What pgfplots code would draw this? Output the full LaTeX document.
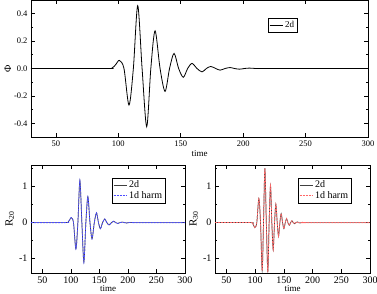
\documentclass[border=0pt]{standalone}
\usepackage{fontspec}
\setmainfont{Liberation Serif}
\usepackage{pgfplots}
\pgfplotsset{compat=1.18}
\pgfplotsset{
  myax/.style={
    scale only axis, anchor=south west,
    axis line style={line width=0.8pt},
    tick align=inside,
    major tick length=4pt, minor tick length=2pt,
    every tick/.style={black, line width=0.6pt},
    /pgf/number format/assume math mode=true,
    xmin=30, xmax=300,
    xtick={50,100,...,300},
    legend cell align=left,
    legend image code/.code={\draw[#1] (0pt,0pt) -- (13pt,0pt);},
  }
}
\begin{document}
\begin{tikzpicture}
\path[use as bounding box] (0,0) rectangle (377pt,294pt);
% top panel
\begin{axis}[myax, at={(31pt,157pt)}, width=337pt, height=137pt,
  ymin=-0.5, ymax=0.5,
  ytick={-0.4,-0.2,0,0.2,0.4},
  minor y tick num=1,
  yticklabel style={/pgf/number format/.cd,fixed,fixed zerofill,precision=1},
  ticklabel style={font=\fontsize{8.5}{9}\selectfont},
  xlabel={time}, ylabel={Φ},
  xlabel style={font=\fontsize{9}{10}\selectfont, yshift=3pt},
  ylabel style={font=\fontsize{10}{11}\selectfont, yshift=-4pt},
  legend style={at={(0.703,0.869)}, anchor=north west, draw=black, line width=0.6pt,
    font=\fontsize{9}{10}\selectfont, inner sep=1pt, row sep=-1pt},
]
\addplot[black, line width=0.8pt, smooth] coordinates {
(30,0)(90,0)(95,0.004)(98,0.03)(100.8,0.059)(104.5,0)(108.5,-0.267)(112,0)(115.5,0.459)(119,0)(122.7,-0.425)(126,0)(129.4,0.275)(133.4,0)(137.4,-0.167)(141,0)(144.6,0.11)(148.3,0)(152,-0.064)(155.5,0)(159,0.037)(163,0)(167,-0.025)(170.5,0)(174,0.015)(178,0)(181.5,-0.012)(185.5,0)(189.5,0.007)(193,0)(197,-0.005)(201,0)(205,0.003)(210,0)(215,0)(300,0)
};
\addlegendentry{2d}
\end{axis}
% bottom left
\begin{axis}[myax, at={(31pt,21pt)}, width=154pt, height=108pt,
  ymin=-1.4, ymax=1.6,
  ytick={-1,0,1},
  minor ytick={-0.5,0.5,1.5},
  ticklabel style={font=\fontsize{10}{11}\selectfont},
  xlabel={time}, ylabel={R\textsubscript{20}},
  xlabel style={font=\fontsize{9}{10}\selectfont, yshift=4.5pt},
  ylabel style={font=\fontsize{11}{12}\selectfont, yshift=-2pt},
  legend style={at={(0.526,0.882)}, anchor=north west, draw=black, line width=0.6pt,
    font=\fontsize{10}{11}\selectfont, inner sep=1pt, row sep=-2pt},
]
\addplot[black!75, line width=0.7pt, smooth] coordinates {
(30,0)(90,0)(95,0.01)(98,0.08)(100.6,0.14)(104.5,0)(108.7,-0.73)(112.2,0)(115.7,1.17)(119.2,0)(122.7,-1.1)(126.2,0)(129.7,0.72)(133.4,0)(137,-0.45)(141,0)(144.8,0.27)(148.3,0)(151.7,-0.17)(155.5,0)(159.3,0.1)(163,0)(167,-0.065)(171,0)(175,0.04)(178.5,0)(182,-0.025)(186,0)(190,0.015)(193.5,0)(197.5,-0.01)(201.5,0)(205.5,0.006)(210,0)(215,0)(300,0)
};
\addlegendentry{2d}
\addplot[blue!70!white, line width=0.8pt, dash pattern=on 2pt off 1pt, smooth] coordinates {
(30,0)(90,0)(95,0.01)(98,0.08)(100.6,0.14)(104.5,0)(108.7,-0.73)(112.2,0)(115.7,1.17)(119.2,0)(122.7,-1.1)(126.2,0)(129.7,0.72)(133.4,0)(137,-0.45)(141,0)(144.8,0.27)(148.3,0)(151.7,-0.17)(155.5,0)(159.3,0.1)(163,0)(167,-0.065)(171,0)(175,0.04)(178.5,0)(182,-0.025)(186,0)(190,0.015)(193.5,0)(197.5,-0.01)(201.5,0)(205.5,0.006)(210,0)(215,0)(300,0)
};
\addlegendentry{1d harm}
\end{axis}
% bottom right
\begin{axis}[myax, at={(215pt,21pt)}, width=155pt, height=108pt,
  ymin=-1.4, ymax=1.6,
  ytick={-1,0,1},
  minor ytick={-0.5,0.5,1.5},
  ticklabel style={font=\fontsize{10}{11}\selectfont},
  xlabel={time}, ylabel={R\textsubscript{30}},
  xlabel style={font=\fontsize{9}{10}\selectfont, yshift=4.5pt},
  ylabel style={font=\fontsize{11}{12}\selectfont, yshift=-2pt},
  legend style={at={(0.535,0.882)}, anchor=north west, draw=black, line width=0.6pt,
    font=\fontsize{10}{11}\selectfont, inner sep=1pt, row sep=-2pt},
]
\addplot[black!75, line width=0.7pt, smooth] coordinates {
(30,0)(92,0)(96,-0.03)(99.4,-0.14)(102.8,0)(106.4,0.67)(109.3,0)(112.2,-1.34)(114.5,0)(116.9,1.51)(119.4,0)(122,-1.38)(124.3,0)(126.7,1.03)(129,0)(131.4,-0.76)(133.7,0)(136,0.51)(138.4,0)(140.7,-0.38)(143,0)(145.3,0.25)(147.7,0)(150,-0.17)(152.4,0)(154.7,0.11)(157,0)(159.4,-0.075)(161.7,0)(164,0.05)(166.4,0)(168.7,-0.03)(171,0)(173.4,0.02)(175.7,0)(178,-0.012)(180.4,0)(182.7,0.008)(185,0)(188,0)(300,0)
};
\addlegendentry{2d}
\addplot[red!60!white, line width=0.8pt, dash pattern=on 2pt off 1pt, smooth] coordinates {
(30,0)(92,0)(96,-0.03)(99.4,-0.14)(102.8,0)(106.4,0.67)(109.3,0)(112.2,-1.34)(114.5,0)(116.9,1.51)(119.4,0)(122,-1.38)(124.3,0)(126.7,1.03)(129,0)(131.4,-0.76)(133.7,0)(136,0.51)(138.4,0)(140.7,-0.38)(143,0)(145.3,0.25)(147.7,0)(150,-0.17)(152.4,0)(154.7,0.11)(157,0)(159.4,-0.075)(161.7,0)(164,0.05)(166.4,0)(168.7,-0.03)(171,0)(173.4,0.02)(175.7,0)(178,-0.012)(180.4,0)(182.7,0.008)(185,0)(188,0)(300,0)
};
\addlegendentry{1d harm}
\end{axis}
\end{tikzpicture}
\end{document}
